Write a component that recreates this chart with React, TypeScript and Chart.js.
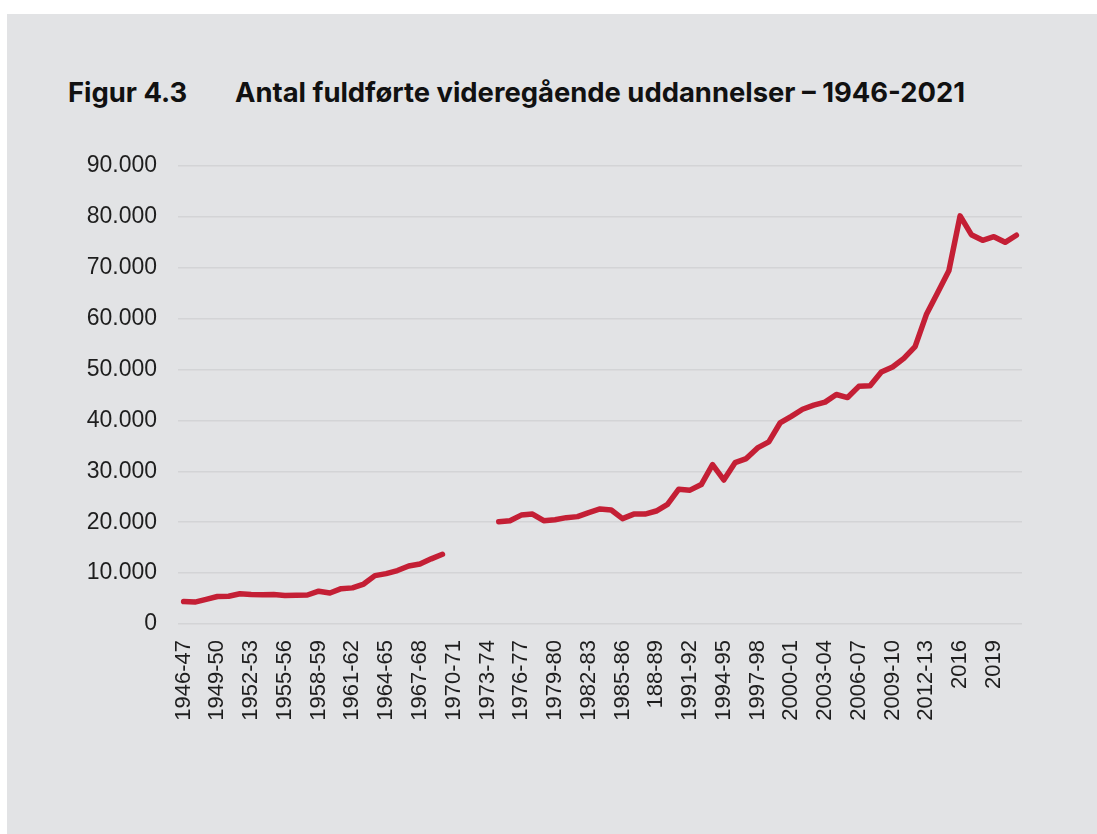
import React, { useEffect, useRef } from "react";
import { Chart, registerables } from "chart.js";

Chart.register(...registerables);

const categories: string[] = [
  "1946-47", "1947-48", "1948-49", "1949-50", "1950-51", "1951-52", "1952-53", "1953-54", "1954-55", "1955-56",
  "1956-57", "1957-58", "1958-59", "1959-60", "1960-61", "1961-62", "1962-63", "1963-64", "1964-65", "1965-66",
  "1966-67", "1967-68", "1968-69", "1969-70", "1970-71", "1971-72", "1972-73", "1973-74", "1974-75", "1975-76",
  "1976-77", "1977-78", "1978-79", "1979-80", "1980-81", "1981-82", "1982-83", "1983-84", "1984-85", "1985-86",
  "1986-87", "1987-88", "188-89", "1989-90", "1990-91", "1991-92", "1992-93", "1993-94", "1994-95", "1995-96",
  "1996-97", "1997-98", "1998-99", "1999-00", "2000-01", "2001-02", "2002-03", "2003-04", "2004-05", "2005-06",
  "2006-07", "2007-08", "2008-09", "2009-10", "2010-11", "2011-12", "2012-13", "2013-14", "2014-15", "2016",
  "2017", "2018", "2019", "2020", "2021",
];

const completed: (number | null)[] = [
  4400, 4300, 4850, 5400, 5450, 5950, 5800, 5750, 5800, 5600,
  5650, 5700, 6450, 6100, 6950, 7100, 7850, 9500, 9900, 10500,
  11400, 11800, 12800, 13700, null, null, null, null, 20100, 20300,
  21400, 21600, 20300, 20500, 20900, 21100, 21900, 22600, 22400, 20700,
  21600, 21600, 22200, 23500, 26500, 26300, 27400, 31300, 28300, 31700,
  32500, 34600, 35800, 39500, 40800, 42200, 43000, 43600, 45100, 44500,
  46700, 46800, 49500, 50500, 52200, 54500, 60800, 65100, 69400, 80200,
  76500, 75400, 76100, 75000, 76400,
];

const yTicks: number[] = [0, 10000, 20000, 30000, 40000, 50000, 60000, 70000, 80000, 90000];
const yTickLabels: string[] = ["0", "10.000", "20.000", "30.000", "40.000", "50.000", "60.000", "70.000", "80.000", "90.000"];

const figureLabel = "Figur 4.3";
const titleText = "Antal fuldførte videregående uddannelser – 1946-2021";

export default function App() {
  const canvasRef = useRef<HTMLCanvasElement | null>(null);

  useEffect(() => {
    if (!canvasRef.current) return;
    const chart = new Chart(canvasRef.current, {
      type: "line",
      data: {
        labels: categories,
        datasets: [
          {
            data: completed,
            borderColor: "#c41f35",
            borderWidth: 5.5,
            pointRadius: 0,
            pointHoverRadius: 0,
            tension: 0,
            spanGaps: false,
            borderCapStyle: "round",
            borderJoinStyle: "round",
            fill: false,
          },
        ],
      },
      options: {
        animation: false,
        responsive: false,
        maintainAspectRatio: false,
        layout: { padding: { left: 0, right: 75, top: 166, bottom: 80 } },
        plugins: {
          legend: { display: false },
          title: { display: false },
          tooltip: { enabled: false },
        },
        scales: {
          x: {
            type: "category",
            offset: true,
            grid: { display: false, drawTicks: false },
            border: { display: false },
            ticks: {
              autoSkip: false,
              maxRotation: 90,
              minRotation: 90,
              padding: 16,
              color: "#1e1e1e",
              font: { family: "'Liberation Sans', Arial, sans-serif", size: 22 },
              callback: (_v: any, i: number) => (i % 3 === 0 ? categories[i] : ""),
            },
            afterFit: (s: any) => {
              s.height = 130;
            },
          },
          y: {
            min: 0,
            max: 90000,
            grid: { color: "#d3d4d6", lineWidth: 1.5, drawTicks: false },
            border: { display: false },
            afterBuildTicks: (s: any) => {
              s.ticks = yTicks.map((v) => ({ value: v }));
            },
            ticks: {
              padding: 21,
              color: "#1e1e1e",
              font: { family: "'Liberation Sans', Arial, sans-serif", size: 23 },
              callback: (v: any) => {
                const i = yTicks.indexOf(Number(v));
                return i >= 0 ? yTickLabels[i] : "";
              },
            },
            afterFit: (s: any) => {
              s.width = 178;
            },
          },
        },
      },
    });
    return () => chart.destroy();
  }, []);

  const titleStyle: React.CSSProperties = {
    position: "absolute",
    top: 75,
    fontFamily: "Inter, 'Liberation Sans', Arial, sans-serif",
    fontWeight: 700,
    fontSize: 27.4,
    color: "#111111",
    whiteSpace: "nowrap",
    lineHeight: "34px",
  };

  return (
    <div style={{ position: "absolute", left: 0, top: 0, width: 1097, height: 834, background: "#ffffff", overflow: "hidden" }}>
      <div style={{ position: "absolute", left: 7, top: 14, width: 1090, height: 820, background: "#e2e3e5" }} />
      <div style={{ ...titleStyle, left: 68 }}>{figureLabel}</div>
      <div style={{ ...titleStyle, left: 235 }}>{titleText}</div>
      <canvas ref={canvasRef} width={1097} height={834} style={{ position: "absolute", left: 0, top: 0 }} />
    </div>
  );
}
